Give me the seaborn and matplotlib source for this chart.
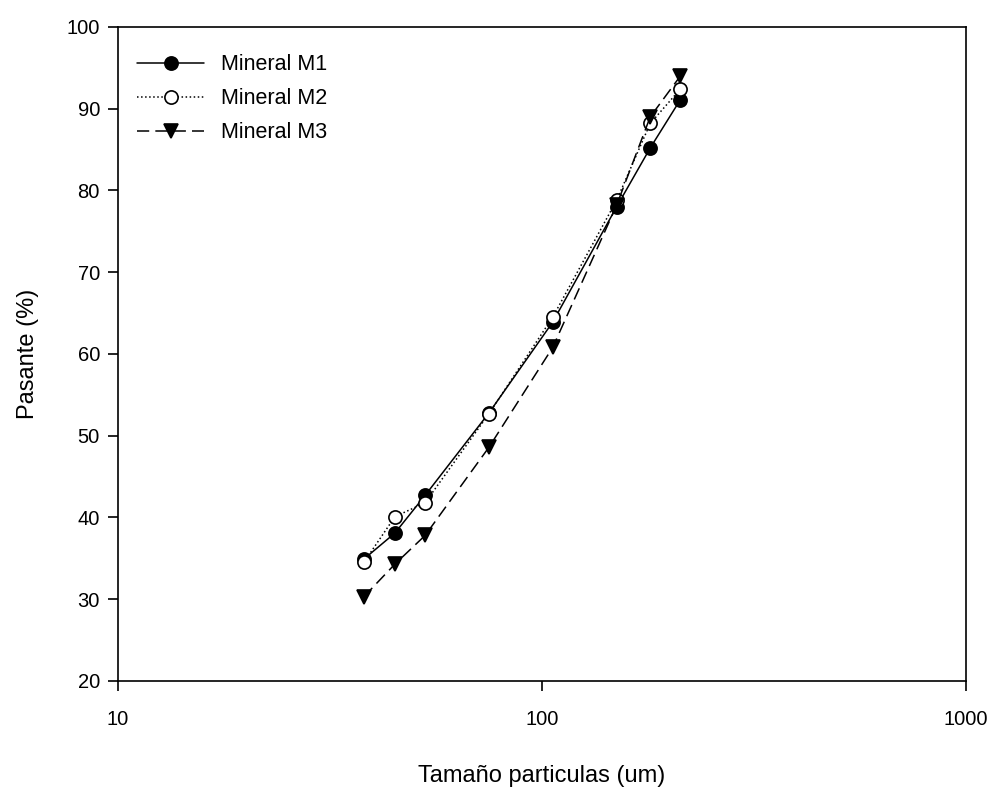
import matplotlib
matplotlib.use("Agg")
import matplotlib.pyplot as plt
import seaborn as sns
import pandas as pd
from matplotlib.ticker import FixedLocator, NullLocator, FixedFormatter

sizes = [38, 45, 53, 75, 106, 150, 180, 212]
m1 = [34.9, 38.1, 42.7, 52.8, 63.9, 78.0, 85.2, 91.1]
m2 = [34.5, 40.1, 41.8, 52.7, 64.5, 78.8, 88.2, 92.4]
m3 = [30.3, 34.3, 37.8, 48.6, 60.8, 78.2, 89.0, 94.0]
series_names = ["Mineral M1", "Mineral M2", "Mineral M3"]
x_ticks = [10, 100, 1000]
y_ticks = [20, 30, 40, 50, 60, 70, 80, 90, 100]

sns.set_theme(style="ticks")
plt.rcParams['font.family'] = ['Liberation Sans', 'DejaVu Sans']
plt.rcParams['text.color'] = 'black'
plt.rcParams['axes.labelcolor'] = 'black'
plt.rcParams['xtick.color'] = 'black'
plt.rcParams['ytick.color'] = 'black'

fig = plt.figure(figsize=(9.94, 7.89), dpi=100)
ax = fig.add_axes([0.1187, 0.1369, 0.8531, 0.8289])

df = pd.DataFrame({"x": sizes * 3,
                   "y": m1 + m2 + m3,
                   "s": [series_names[0]] * 8 + [series_names[1]] * 8 + [series_names[2]] * 8})

styles = [
    dict(marker="o", linestyle="-", mfc="black", ms=9.5),
    dict(marker="o", linestyle=":", mfc="white", ms=9.5),
    dict(marker="v", linestyle=(0, (8, 4)), mfc="black", ms=10.5),
]
for name, st in zip(series_names, styles):
    sub = df[df["s"] == name]
    sns.lineplot(data=sub, x="x", y="y", ax=ax, color="black", linewidth=1.1,
                 marker=st["marker"], linestyle=st["linestyle"],
                 markerfacecolor=st["mfc"], markeredgecolor="black",
                 markeredgewidth=1.2, markersize=st["ms"], label=name)

ax.set_xscale("log")
ax.set_xlim(10, 1000)
ax.set_ylim(20, 100)
ax.xaxis.set_major_locator(FixedLocator(x_ticks))
ax.xaxis.set_major_formatter(FixedFormatter([str(v) for v in x_ticks]))
ax.xaxis.set_minor_locator(NullLocator())
ax.set_yticks(y_ticks)
ax.tick_params(axis="both", direction="out", length=7, width=1.2, labelsize=14.5,
               colors="black", pad=6)
ax.tick_params(axis="x", pad=14)
for sp in ax.spines.values():
    sp.set_visible(True)
    sp.set_linewidth(1.2)
    sp.set_color("black")

ax.set_xlabel("Tamaño particulas (um)", fontsize=17, labelpad=26)
ax.set_ylabel("Pasante (%)", fontsize=17, labelpad=20)

leg = ax.legend(loc="upper left", frameon=False, fontsize=15.5, handlelength=3.1,
                bbox_to_anchor=(0.0, 0.988), borderaxespad=0.5, labelspacing=0.6,
                handletextpad=0.8)
for t in leg.get_texts():
    t.set_color("black")

fig.savefig("out.png", dpi=100)
